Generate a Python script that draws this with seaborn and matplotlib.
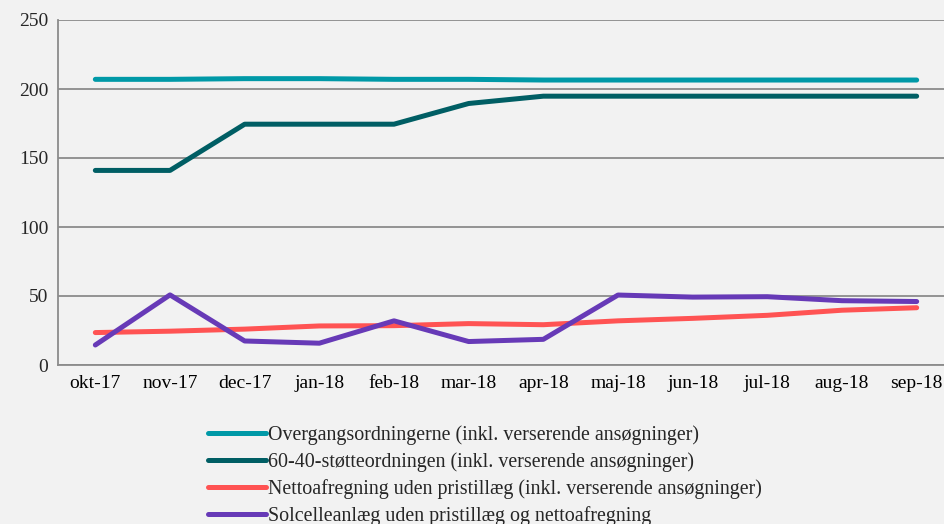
import seaborn as sns
import matplotlib.pyplot as plt
import pandas as pd
import numpy as np
from matplotlib.ticker import FixedLocator

# Data
maaneder = ["okt-17", "nov-17", "dec-17", "jan-18", "feb-18", "mar-18",
            "apr-18", "maj-18", "jun-18", "jul-18", "aug-18", "sep-18"]

overgang = [207, 207, 207.5, 207.5, 207, 207, 206.5, 206.5, 206.5, 206.5, 206.5, 206.5]
stoette_60_40 = [141, 141, 174.5, 174.5, 174.5, 189.5, 194.8, 194.8, 194.8, 194.8, 194.8, 194.8]
netto = [23.5, 24.5, 26, 28.3, 28.5, 30, 29.2, 32, 33.8, 36, 39.7, 41.5]
solcelle = [14.5, 50.8, 17.4, 15.8, 32, 17, 18.6, 50.7, 49.2, 49.5, 46.6, 46]

serie_navne = [
    "Overgangsordningerne (inkl. verserende ansøgninger)",
    "60-40-støtteordningen (inkl. verserende ansøgninger)",
    "Nettoafregning uden pristillæg (inkl. verserende ansøgninger)",
    "Solcelleanlæg uden pristillæg og nettoafregning",
]
farver = ["#0099A7", "#005E64", "#FF5353", "#673AB7"]

df = pd.DataFrame({
    "Måned": maaneder * 4,
    "Værdi": overgang + stoette_60_40 + netto + solcelle,
    "Serie": np.repeat(serie_navne, len(maaneder)),
})

bg = "#F2F2F2"
sns.set_style("white", {"axes.facecolor": bg, "figure.facecolor": bg})
plt.rcParams["font.family"] = ["Liberation Serif", "DejaVu Serif"]

fig = plt.figure(figsize=(9.44, 5.24), dpi=100)
ax = fig.add_axes([58 / 944, 1 - 365 / 524, 896 / 944, 345 / 524])

sns.lineplot(data=df, x="Måned", y="Værdi", hue="Serie", hue_order=serie_navne,
             palette=farver, linewidth=3.6, solid_capstyle="round", ax=ax,
             legend=True, sort=False)

ax.set_xlim(-0.5, 11.5)
ax.set_ylim(0, 250)
ax.set_yticks(range(0, 251, 50))
ax.set_xlabel("")
ax.set_ylabel("")

grid_col = "#8C8C8C"
ax.grid(axis="y", color=grid_col, linewidth=1.3)
ax.set_axisbelow(True)
for side in ["top", "right"]:
    ax.spines[side].set_visible(False)
ax.spines["left"].set_color(grid_col)
ax.spines["left"].set_linewidth(1.3)
ax.spines["bottom"].set_color(grid_col)
ax.spines["bottom"].set_linewidth(1.3)

ax.tick_params(axis="x", which="major", length=0, labelsize=14, pad=7, colors="black")
ax.xaxis.set_minor_locator(FixedLocator(np.arange(0.5, 11.5, 1)))
ax.tick_params(axis="x", which="minor", length=5, width=1.3, color=grid_col)
ax.tick_params(axis="y", length=5, width=1.3, color=grid_col, labelsize=14, pad=2)

handles, labels = ax.get_legend_handles_labels()
ax.get_legend().remove()
leg = fig.legend(handles, labels, loc="upper left", bbox_to_anchor=(200 / 944, 1 - 417 / 524),
                 frameon=False, fontsize=14.4, handlelength=2.9, handletextpad=0.1,
                 labelspacing=0.37, borderaxespad=0)
for line in leg.get_lines():
    line.set_linewidth(3.6)
    line.set_solid_capstyle("round")

fig.savefig("out.png", dpi=100, facecolor=bg)
